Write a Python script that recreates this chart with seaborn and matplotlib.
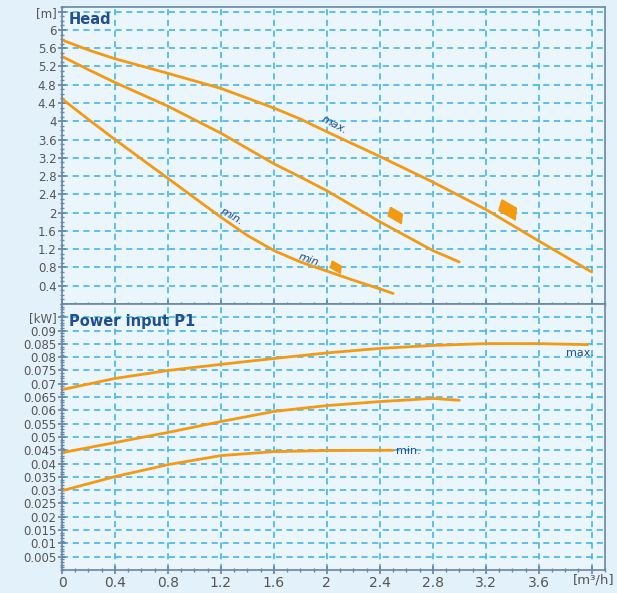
import matplotlib
matplotlib.use("Agg")
import matplotlib.pyplot as plt
import seaborn as sns
import pandas as pd
import numpy as np
from matplotlib.ticker import MultipleLocator, FixedLocator

# flow [m3/h] and head [m]
head_max_q = [0, 0.2, 0.4, 0.8, 1.2, 1.6, 1.8, 2.0, 2.4, 2.8, 3.2, 3.6, 4.0]
head_max_h = [5.78, 5.56, 5.37, 5.05, 4.72, 4.29, 4.05, 3.77, 3.23, 2.67, 2.07, 1.38, 0.7]
head_mid_q = [0, 0.2, 0.4, 0.8, 1.2, 1.6, 1.8, 2.0, 2.4, 2.8, 3.0]
head_mid_h = [5.42, 5.13, 4.85, 4.33, 3.74, 3.07, 2.78, 2.48, 1.8, 1.17, 0.92]
head_min_q = [0, 0.2, 0.4, 0.8, 1.2, 1.4, 1.6, 1.8, 2.0, 2.2, 2.4, 2.5]
head_min_h = [4.49, 4.04, 3.6, 2.75, 1.9, 1.5, 1.17, 0.92, 0.72, 0.52, 0.33, 0.23]

# power input P1 [kW]
p1_max_q = [0, 0.4, 0.8, 1.2, 1.6, 2.0, 2.4, 2.8, 3.2, 3.6, 3.97]
p1_max_p = [0.0678, 0.072, 0.075, 0.0773, 0.0795, 0.0816, 0.0833, 0.0844, 0.0851, 0.0851, 0.0847]
p1_mid_q = [0, 0.4, 0.8, 1.2, 1.6, 2.0, 2.4, 2.8, 3.0]
p1_mid_p = [0.0441, 0.0479, 0.0517, 0.0558, 0.0596, 0.0618, 0.0633, 0.0645, 0.0638]
p1_min_q = [0, 0.4, 0.8, 1.2, 1.6, 2.0, 2.5]
p1_min_p = [0.0298, 0.0351, 0.0396, 0.043, 0.0445, 0.0449, 0.045]

# little speed-setting flags on the head curves
flag_q = [2.52, 3.37, 2.07]
flag_h = [1.93, 2.05, 0.8]
flag_size = [150, 230, 85]

head_ticks = [0.4, 0.8, 1.2, 1.6, 2, 2.4, 2.8, 3.2, 3.6, 4, 4.4, 4.8, 5.2, 5.6, 6]
p1_ticks = [0.005, 0.01, 0.015, 0.02, 0.025, 0.03, 0.035, 0.04, 0.045, 0.05,
            0.055, 0.06, 0.065, 0.07, 0.075, 0.08, 0.085, 0.09]
q_ticks = [0, 0.4, 0.8, 1.2, 1.6, 2, 2.4, 2.8, 3.2, 3.6, 4.0]
q_labels = ["0", "0.4", "0.8", "1.2", "1.6", "2", "2.4", "2.8", "3.2", "3.6", ""]

orange = "#f39a12"
grid_c = "#35b0e8"
frame_c = "#6a87a6"
title_c = "#1f4f8f"
tick_c = "#555555"

sns.set_theme(style="ticks")
plt.rcParams["font.family"] = ["DejaVu Sans"]

fig = plt.figure(figsize=(6.17, 5.93), dpi=100, facecolor="#e3f1fa")
ax1 = fig.add_axes([0.1005, 0.4874, 0.88, 0.5006])
ax2 = fig.add_axes([0.1005, 0.0388, 0.88, 0.4486])


def style_axis(ax):
    ax.set_facecolor("#eaf5fc")
    ax.set_xlim(0, 4.1)
    ax.xaxis.set_major_locator(FixedLocator(q_ticks))
    ax.xaxis.set_minor_locator(MultipleLocator(0.1))
    ax.grid(True, which="major", color=grid_c, linestyle=(0, (4, 3)), linewidth=1.1)
    for s in ax.spines.values():
        s.set_color(frame_c)
        s.set_linewidth(1.2)
    ax.tick_params(which="both", direction="inout", colors=frame_c, labelcolor=tick_c,
                   labelsize=8.5, pad=1)
    ax.tick_params(which="major", length=6)
    ax.tick_params(which="minor", length=3)
    ax.set_xlabel("")
    ax.set_ylabel("")


# --- Head panel
for q, h in [(head_max_q, head_max_h), (head_mid_q, head_mid_h), (head_min_q, head_min_h)]:
    sns.lineplot(x=q, y=h, ax=ax1, color=orange, linewidth=2, sort=False, legend=False)

# flag shape tilted along the falling curves
ang = np.deg2rad(-30)
base = np.array([(-1, 0.55), (0.55, 0.55), (1, -0.45), (-0.75, -0.45), (-1, 0.55)])
rot = np.array([[np.cos(ang), -np.sin(ang)], [np.sin(ang), np.cos(ang)]])
flag = [tuple(p) for p in base @ rot.T]
ax1.scatter(flag_q, flag_h, marker=flag, s=flag_size, color=orange, zorder=4)

style_axis(ax1)
ax1.set_ylim(0, 6.5)
ax1.yaxis.set_major_locator(FixedLocator(head_ticks + [6.4]))
ax1.set_yticklabels([f"{t:g}" for t in head_ticks] + ["[m]"])
ax1.yaxis.set_minor_locator(MultipleLocator(0.1))
ax1.tick_params(axis="x", labelbottom=False)
ax1.text(0.05, 6.22, "Head", color=title_c, fontsize=10.5, fontweight="bold", va="center")
ax1.text(2.06, 3.92, "max.", color=title_c, fontsize=8, rotation=-28, style="italic",
         ha="center", va="center")
ax1.text(1.28, 1.92, "min.", color=title_c, fontsize=8, rotation=-30, style="italic",
         ha="center", va="center")
ax1.text(1.87, 0.95, "min.", color=title_c, fontsize=8, rotation=-20, style="italic",
         ha="center", va="center")

# --- Power input panel
for q, p in [(p1_max_q, p1_max_p), (p1_mid_q, p1_mid_p), (p1_min_q, p1_min_p)]:
    sns.lineplot(x=q, y=p, ax=ax2, color=orange, linewidth=2, sort=False, legend=False)
style_axis(ax2)
ax2.set_ylim(0, 0.1)
ax2.yaxis.set_major_locator(FixedLocator(p1_ticks + [0.095]))
ax2.set_yticklabels([f"{t:g}" for t in p1_ticks] + ["[kW]"])
ax2.yaxis.set_minor_locator(MultipleLocator(0.001))
ax2.set_xticklabels(q_labels, fontsize=10)
ax2.text(0.05, 0.0935, "Power input P1", color=title_c, fontsize=10.5, fontweight="bold",
         va="center")
ax2.text(4.02, 0.0815, "max.", color=title_c, fontsize=8, ha="right", va="center")
ax2.text(2.52, 0.0446, "min.", color=title_c, fontsize=8, ha="left", va="center")
fig.text(614 / 617, 1 - 580 / 593, "[m³/h]", color=tick_c, fontsize=9.5, ha="right",
         va="center")

fig.savefig("out.png", dpi=100, facecolor=fig.get_facecolor())
